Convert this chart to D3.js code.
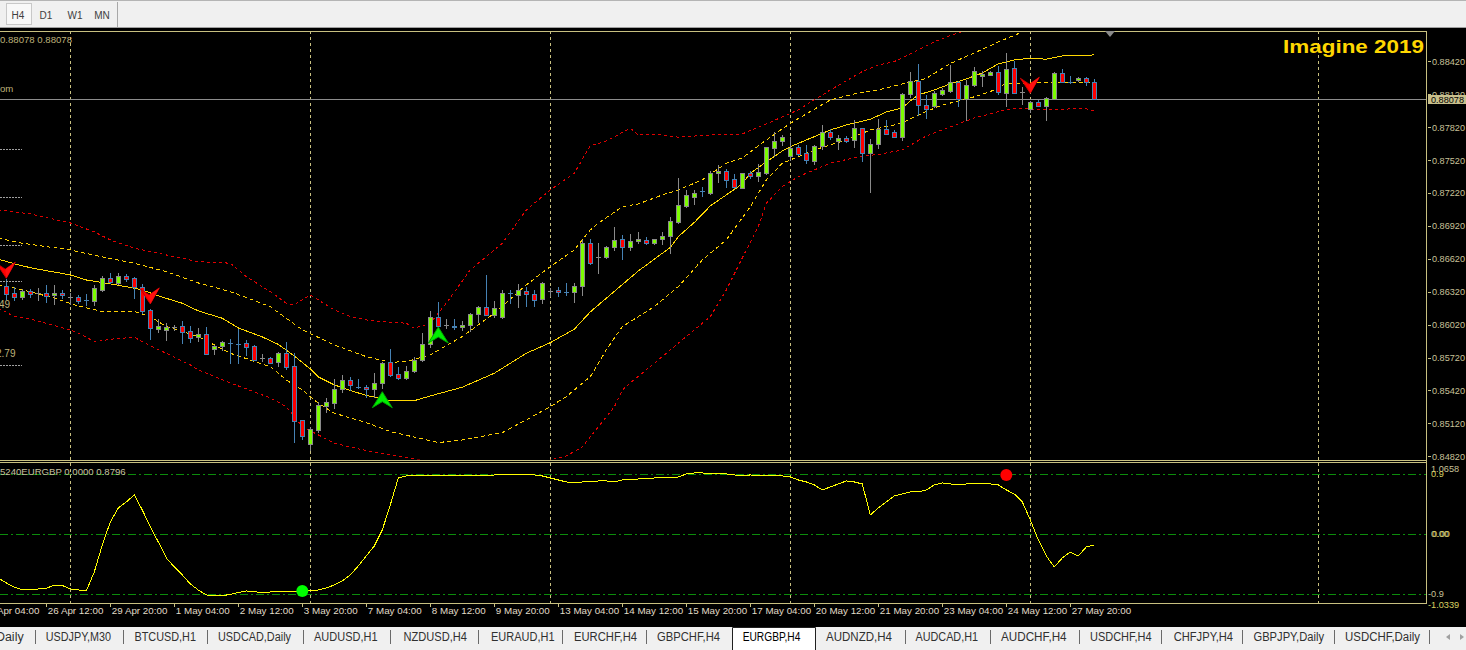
<!DOCTYPE html>
<html><head><meta charset="utf-8">
<script src="https://cdn.jsdelivr.net/npm/d3@7"></script>
<style>html,body{margin:0;padding:0;background:#000;overflow:hidden}svg{display:block}text{font-family:"Liberation Sans",Arial,sans-serif}</style>
</head><body>
<svg id="c" width="1466" height="650"></svg>
<script>
// ---------------- DATA ----------------
const open = [
0.86375,0.86309,0.86275,0.86327,0.86306,0.86309,0.86288,0.86311,0.86275,0.86272,
0.86246,0.86239,0.86336,0.86443,0.86403,0.86464,0.86443,0.86366,0.86154,0.85981,
0.85975,0.85999,0.86006,0.85963,0.85906,0.85933,0.85796,0.85823,0.85852,0.85848,
0.85854,0.85826,0.85716,0.85716,0.85680,0.85762,0.85641,0.85149,0.84930,0.85061,
0.85282,0.85310,0.85434,0.85516,0.85456,0.85455,0.85432,0.85486,0.85677,0.85568,
0.85532,0.85595,0.85698,0.85842,0.86088,0.86020,0.86003,0.85996,0.86015,0.86115,
0.86181,0.86111,0.86088,0.86310,0.86293,0.86330,0.86300,0.86254,0.86330,0.86333,
0.86316,0.86315,0.86370,0.86762,0.86635,0.86640,0.86726,0.86798,0.86726,0.86780,
0.86789,0.86762,0.86798,0.86826,0.86959,0.87099,0.87186,0.87237,0.87217,0.87400,
0.87418,0.87345,0.87269,0.87403,0.87378,0.87405,0.87633,0.87691,0.87560,0.87639,
0.87585,0.87515,0.87649,0.87776,0.87697,0.87721,0.87700,0.87810,0.87588,0.87664,
0.87803,0.87776,0.87733,0.88120,0.88238,0.88020,0.88016,0.88122,0.88152,0.88229,
0.88074,0.88202,0.88284,0.88298,0.88320,0.88134,0.88357,0.88143,0.87983,0.88050,
0.88016,0.88077,0.88314,0.88233,0.88247,0.88265,0.88229];
const high = [
0.86437,0.86361,0.86342,0.86342,0.86351,0.86382,0.86382,0.86336,0.86311,0.86291,
0.86297,0.86382,0.86464,0.86494,0.86489,0.86480,0.86455,0.86388,0.86163,0.86069,
0.86033,0.86017,0.86057,0.86006,0.85990,0.85999,0.85835,0.85872,0.85893,0.85984,
0.85881,0.85833,0.85753,0.85728,0.85774,0.85860,0.85759,0.85152,0.85091,0.85313,
0.85349,0.85525,0.85562,0.85546,0.85525,0.85466,0.85577,0.85677,0.85796,0.85635,
0.85643,0.85728,0.85942,0.86145,0.86224,0.86069,0.86069,0.86051,0.86127,0.86193,
0.86473,0.86236,0.86333,0.86333,0.86391,0.86363,0.86333,0.86412,0.86351,0.86363,
0.86400,0.86400,0.86792,0.86801,0.86762,0.86737,0.86910,0.86837,0.86844,0.86865,
0.86819,0.86804,0.86865,0.87002,0.87354,0.87245,0.87248,0.87272,0.87421,0.87475,
0.87436,0.87392,0.87406,0.87421,0.87485,0.87642,0.87776,0.87751,0.87727,0.87658,
0.87658,0.87658,0.87840,0.87801,0.87749,0.87740,0.87888,0.87815,0.87715,0.87894,
0.87885,0.87797,0.88129,0.88320,0.88396,0.88113,0.88147,0.88174,0.88387,0.88244,
0.88250,0.88368,0.88332,0.88329,0.88378,0.88496,0.88420,0.88189,0.88061,0.88070,
0.88098,0.88323,0.88350,0.88286,0.88277,0.88280,0.88256];
const low = [
0.86254,0.86245,0.86254,0.86275,0.86245,0.86230,0.86209,0.86266,0.86209,0.86220,
0.86197,0.86203,0.86327,0.86397,0.86391,0.86421,0.86260,0.86129,0.85893,0.85957,
0.85881,0.85972,0.85856,0.85866,0.85875,0.85756,0.85756,0.85790,0.85668,0.85668,
0.85747,0.85698,0.85692,0.85668,0.85643,0.85613,0.84951,0.84981,0.84878,0.85045,
0.85227,0.85264,0.85409,0.85425,0.85441,0.85364,0.85364,0.85443,0.85555,0.85528,
0.85528,0.85589,0.85692,0.85814,0.86008,0.85987,0.85984,0.85972,0.85963,0.86045,
0.86108,0.86088,0.86084,0.86220,0.86184,0.86188,0.86193,0.86220,0.86282,0.86284,
0.86288,0.86230,0.86291,0.86574,0.86494,0.86631,0.86698,0.86622,0.86698,0.86767,
0.86753,0.86756,0.86753,0.86676,0.86950,0.87095,0.87117,0.87196,0.87214,0.87324,
0.87272,0.87266,0.87266,0.87354,0.87333,0.87396,0.87557,0.87658,0.87518,0.87569,
0.87491,0.87485,0.87618,0.87709,0.87618,0.87688,0.87637,0.87515,0.87232,0.87633,
0.87755,0.87730,0.87706,0.88098,0.87934,0.87907,0.88007,0.88113,0.88143,0.88013,
0.87885,0.88193,0.88195,0.88293,0.88125,0.88013,0.88129,0.88031,0.87961,0.88013,
0.87885,0.88074,0.88229,0.88225,0.88238,0.88207,0.88078];
const close = [
0.86300,0.86275,0.86330,0.86297,0.86306,0.86284,0.86309,0.86288,0.86275,0.86239,
0.86245,0.86351,0.86443,0.86409,0.86464,0.86437,0.86366,0.86148,0.85987,0.86006,
0.85999,0.85999,0.85957,0.85902,0.85933,0.85756,0.85826,0.85860,0.85851,0.85847,
0.85814,0.85701,0.85716,0.85673,0.85762,0.85637,0.85146,0.85009,0.85070,0.85288,
0.85319,0.85434,0.85516,0.85473,0.85455,0.85430,0.85486,0.85668,0.85564,0.85532,
0.85595,0.85698,0.85842,0.86088,0.86011,0.86020,0.86002,0.86015,0.86118,0.86181,
0.86111,0.86169,0.86306,0.86309,0.86333,0.86297,0.86248,0.86400,0.86330,0.86315,
0.86315,0.86370,0.86762,0.86585,0.86635,0.86728,0.86789,0.86726,0.86780,0.86798,
0.86762,0.86798,0.86828,0.86962,0.87108,0.87199,0.87217,0.87236,0.87400,0.87421,
0.87336,0.87270,0.87400,0.87378,0.87409,0.87637,0.87691,0.87730,0.87630,0.87578,
0.87518,0.87649,0.87773,0.87730,0.87721,0.87697,0.87810,0.87588,0.87664,0.87803,
0.87761,0.87733,0.88120,0.88238,0.88020,0.87989,0.88129,0.88159,0.88229,0.88074,
0.88202,0.88329,0.88305,0.88323,0.88141,0.88347,0.88134,0.88143,0.88047,0.88016,
0.88083,0.88314,0.88234,0.88232,0.88265,0.88232,0.88078];

// envelope / band lines, read at bar indices
const midBars = [-1,2,4,8,10,13,15,17,19,22,24,27,29,32,34,36,38,39,41,43,45,48,51,53,57,61,65,68,71,73,76,79,83,84,86,88,92,93,95,97,98,100,103,105,108,110,112,113,114,116,118,120,122,124,126,128,130,132,136];
const midVals = [0.86616,0.86555,0.86525,0.86473,0.86427,0.86391,0.86366,0.86336,0.86282,0.86215,0.86145,0.86078,0.85990,0.85908,0.85840,0.85735,0.85616,0.85543,0.85471,0.85420,0.85375,0.85327,0.85327,0.85370,0.85450,0.85577,0.85759,0.85856,0.85978,0.86136,0.86323,0.86509,0.86724,0.86822,0.86951,0.87102,0.87302,0.87400,0.87503,0.87603,0.87642,0.87703,0.87794,0.87840,0.87892,0.87958,0.87995,0.88059,0.88113,0.88159,0.88214,0.88259,0.88314,0.88396,0.88432,0.88448,0.88439,0.88469,0.88478];
const upInBars = [-1,2,8,12,16,20,24,28,33,37,41,45,48,50,53,57,61,65,68,71,73,74,77,79,82,84,87,90,92,95,98,103,106,109,112,115,118,121,124,127,132,136];
const upInVals = [0.86807,0.86762,0.86701,0.86637,0.86580,0.86503,0.86400,0.86321,0.86184,0.85972,0.85835,0.85728,0.85677,0.85683,0.85744,0.85911,0.86124,0.86382,0.86549,0.86701,0.86883,0.86944,0.87095,0.87120,0.87202,0.87248,0.87339,0.87491,0.87539,0.87703,0.87855,0.88068,0.88122,0.88159,0.88214,0.88264,0.88400,0.88496,0.88596,0.88687,0.88740,0.88760];
const loInBars = [-1,1,6,9,12,16,18,20,24,28,33,35,37,39,41,45,48,54,57,62,65,68,70,73,75,77,81,84,87,90,93,95,97,101,105,108,111,112,114,117,120,123,125,128,132,136];
const loInVals = [0.86382,0.86355,0.86263,0.86190,0.86139,0.86139,0.86093,0.86002,0.85911,0.85759,0.85637,0.85516,0.85425,0.85304,0.85213,0.85127,0.85045,0.84945,0.84969,0.85036,0.85152,0.85273,0.85364,0.85546,0.85790,0.86002,0.86184,0.86366,0.86610,0.86792,0.87095,0.87339,0.87491,0.87612,0.87703,0.87794,0.87840,0.87858,0.87931,0.88022,0.88074,0.88143,0.88220,0.88223,0.88225,0.88227];
const upOutBars = [-1,3,8,11,13,16,20,24,28,30,33,35,36,38,41,43,45,47,50,51,53,55,58,62,65,68,71,73,75,78,79,82,84,88,92,95,99,103,107,109,111,114,116,119,125,136];
const upOutVals = [0.87065,0.87029,0.86947,0.86865,0.86792,0.86716,0.86655,0.86594,0.86580,0.86457,0.86321,0.86215,0.86200,0.86291,0.86154,0.86093,0.86063,0.86047,0.86033,0.85987,0.86033,0.86215,0.86519,0.86762,0.87065,0.87248,0.87400,0.87649,0.87694,0.87810,0.87749,0.87749,0.87728,0.87749,0.87758,0.87849,0.87977,0.88159,0.88326,0.88387,0.88417,0.88523,0.88599,0.88681,0.88800,0.88850];
const loOutBars = [-1,1,3,8,10,11,13,16,18,20,23,24,28,33,35,37,39,41,45,48,52,57,62,67,70,72,76,77,78,81,84,86,88,90,92,94,95,97,99,103,107,109,112,115,118,121,123,125,127,130,133,135,136];
const loOutVals = [0.86172,0.86093,0.86072,0.85972,0.85908,0.85862,0.85887,0.85905,0.85826,0.85759,0.85653,0.85607,0.85489,0.85352,0.85273,0.85090,0.85015,0.84939,0.84872,0.84832,0.84787,0.84732,0.84732,0.84769,0.84823,0.84906,0.85270,0.85425,0.85489,0.85668,0.85851,0.85972,0.86093,0.86336,0.86628,0.86913,0.87126,0.87278,0.87369,0.87491,0.87557,0.87571,0.87612,0.87740,0.87822,0.87904,0.87940,0.87983,0.87992,0.87977,0.87986,0.87988,0.87967];

// signal arrows
const arrowBars = [0,18,128,47,54];
const arrowPrices = [0.86443,0.86209,0.88129,0.85409,0.85998];
const arrowDirs = ["down","down","down","up","up"];

// oscillator (first value is bar -1)
const oscStart = -1;
const osc = [
-0.66,
-0.735,-0.795,-0.84,-0.832,-0.825,-0.814,-0.769,-0.772,-0.825,-0.84,
-0.855,-0.57,-0.165,0.18,0.39,0.48,0.585,0.36,0.105,-0.12,
-0.36,-0.495,-0.615,-0.75,-0.84,-0.915,-0.925,-0.925,-0.907,-0.877,
-0.855,-0.862,-0.885,-0.87,-0.865,-0.865,-0.865,-0.855,-0.847,-0.84,
-0.81,-0.765,-0.705,-0.615,-0.48,-0.33,-0.18,0.06,0.435,0.84,
0.87,0.87,0.87,0.87,0.87,0.87,0.877,0.87,0.877,0.87,
0.87,0.885,0.892,0.885,0.885,0.892,0.885,0.87,0.84,0.81,
0.78,0.765,0.78,0.78,0.795,0.795,0.78,0.81,0.81,0.825,
0.825,0.84,0.84,0.84,0.855,0.9,0.915,0.915,0.9,0.907,
0.9,0.885,0.877,0.885,0.87,0.87,0.87,0.87,0.855,0.81,
0.78,0.735,0.66,0.705,0.75,0.795,0.78,0.75,0.285,0.39,
0.48,0.57,0.6,0.63,0.63,0.66,0.735,0.765,0.75,0.735,
0.75,0.75,0.75,0.75,0.735,0.66,0.6,0.48,0.21,-0.09,
-0.33,-0.495,-0.36,-0.27,-0.33,-0.195,-0.165];
const oscLevels = [0.9, 0.0, -0.9];
const dotBars = [37, 125];
const dotVals = [-0.855, 0.885];
const dotKinds = ["buy","sell"];

// axes
const priceTicks = [0.84820,0.85120,0.85420,0.85720,0.86020,0.86320,0.86620,0.86920,0.87220,0.87520,0.87820,0.88120,0.88420];
const lastPrice = 0.88078;
const timeLabels = ["25 Apr 04:00","26 Apr 12:00","29 Apr 20:00","1 May 04:00","2 May 12:00","3 May 20:00","7 May 04:00","8 May 12:00","9 May 20:00","13 May 04:00","14 May 12:00","15 May 20:00","17 May 04:00","20 May 12:00","21 May 20:00","23 May 04:00","24 May 12:00","27 May 20:00"];
const timeLabelBars = [-3,5,13,21,29,37,45,53,61,69,77,85,93,101,109,117,125,133];
const gridBars = [8,38,68,98,128,164];
const periods = ["H4","D1","W1","MN"];
const tabs = ["Daily","USDJPY,M30","BTCUSD,H1","USDCAD,Daily","AUDUSD,H1","NZDUSD,H4","EURAUD,H1","EURCHF,H4","GBPCHF,H4","EURGBP,H4","AUDNZD,H4","AUDCAD,H1","AUDCHF,H4","USDCHF,H4","CHFJPY,H4","GBPJPY,Daily","USDCHF,Daily"];
const activeTab = "EURGBP,H4";

// ---------------- DRAW ----------------
const svg = d3.select("#c");
const W = 1466, H = 650;
const plotR = 1426, mainT = 31, mainB = 460, indT = 462.5, indB = 603;
const x = d3.scaleLinear().domain([0, 136]).range([6.3, 1094.3]);
const y = d3.scaleLinear().domain([0.84820, 0.88420]).range([456.3, 61.3]);
const yo = d3.scaleLinear().domain([-1.0339, 1.0658]).range([602.9, 462.9]);
const frameCol = "#c8c080", axisTxt = "#c8c098";

svg.append("rect").attr("width", W).attr("height", H).attr("fill", "#000");
const defs = svg.append("defs");
defs.append("clipPath").attr("id", "cm").append("rect").attr("x", 0).attr("y", mainT + 0.5).attr("width", plotR).attr("height", mainB - mainT - 1);
defs.append("clipPath").attr("id", "ci").append("rect").attr("x", 0).attr("y", indT + 0.5).attr("width", plotR).attr("height", indB - indT - 1);

// toolbar
svg.append("rect").attr("x", 0).attr("y", 0).attr("width", W).attr("height", 27).attr("fill", "#f0f0f0");
svg.append("line").attr("x1", 0).attr("x2", W).attr("y1", 0.5).attr("y2", 0.5).attr("stroke", "#b4b4b4");
svg.append("line").attr("x1", 0).attr("x2", W).attr("y1", 27.5).attr("y2", 27.5).attr("stroke", "#a0a0a0");
svg.append("rect").attr("x", 6.5).attr("y", 3.5).attr("width", 25).attr("height", 21).attr("fill", "#f8f8f8").attr("stroke", "#c8c8c8");
const perX = [18, 46, 75, 102];
svg.selectAll("text.per").data(periods).join("text").attr("class", "per")
  .attr("x", (d, i) => perX[i]).attr("y", 18.5).attr("text-anchor", "middle")
  .attr("font-size", 10).attr("fill", "#404040").text(d => d);
svg.append("line").attr("x1", 117.5).attr("x2", 117.5).attr("y1", 2).attr("y2", 27).attr("stroke", "#a8a8a8");

// vertical grid
const grid = svg.append("g").attr("shape-rendering", "crispEdges");
grid.selectAll("line").data(gridBars).join("line")
  .attr("x1", d => Math.round(x(d)) + 0.5).attr("x2", d => Math.round(x(d)) + 0.5)
  .attr("y1", mainT).attr("y2", indB)
  .attr("stroke", frameCol).attr("stroke-dasharray", "3,3");

// main pane
const main = svg.append("g").attr("clip-path", "url(#cm)");
main.append("line").attr("x1", 0).attr("x2", plotR).attr("y1", Math.round(y(lastPrice)) + 0.5).attr("y2", Math.round(y(lastPrice)) + 0.5)
  .attr("stroke", "#8c8c8c").attr("shape-rendering", "crispEdges");

const bandLine = d3.line().x(d => x(d[0])).y(d => y(d[1]));
const bands = [
  [d3.zip(upOutBars, upOutVals), "#e00000", "3,3"],
  [d3.zip(loOutBars, loOutVals), "#e00000", "3,3"],
  [d3.zip(upInBars, upInVals), "#ffd000", "4,3"],
  [d3.zip(loInBars, loInVals), "#ffd000", "4,3"],
  [d3.zip(midBars, midVals), "#ffd700", null]
];
bands.forEach(b => {
  const p = main.append("path").attr("d", bandLine(b[0])).attr("fill", "none")
    .attr("stroke", b[1]).attr("stroke-width", 1).attr("shape-rendering", "crispEdges");
  if (b[2]) p.attr("stroke-dasharray", b[2]);
});

// candles
const cg = main.append("g").attr("shape-rendering", "crispEdges");
d3.range(open.length).forEach(i => {
  const bull = close[i] >= open[i];
  const edge = bull ? "#8a8a8a" : "#4682b4";
  const xc = Math.round(x(i));
  cg.append("line").attr("x1", xc + 0.5).attr("x2", xc + 0.5)
    .attr("y1", Math.round(y(high[i]))).attr("y2", Math.round(y(low[i])) + 1).attr("stroke", edge);
  const yt = Math.round(y(Math.max(open[i], close[i])));
  const yb = Math.round(y(Math.min(open[i], close[i])));
  if (yb - yt < 1) {
    cg.append("line").attr("x1", xc - 2).attr("x2", xc + 3).attr("y1", yt + 0.5).attr("y2", yt + 0.5).attr("stroke", edge);
  } else {
    cg.append("rect").attr("x", xc - 1.5).attr("y", yt + 0.5).attr("width", 4).attr("height", yb - yt)
      .attr("fill", bull ? "#7cfc00" : "#ff0000").attr("stroke", edge);
  }
});

// arrows
arrowBars.forEach((b, i) => {
  const tx = x(b), ty = y(arrowPrices[i]);
  if (arrowDirs[i] === "down") {
    main.append("path").attr("d", `M${tx},${ty} L${tx - 10},${ty - 15} L${tx - 1},${ty - 9} L${tx + 9},${ty - 16} Z`)
      .attr("fill", "#ff0000").attr("stroke", "#c00000").attr("stroke-width", 1);
    main.append("path").attr("d", `M${tx},${ty} L${tx - 1},${ty - 9} L${tx + 9},${ty - 16} Z`).attr("fill", "#ff1010");
  } else {
    main.append("path").attr("d", `M${tx},${ty} L${tx - 10},${ty + 16} L${tx},${ty + 10} L${tx + 10},${ty + 16} Z`)
      .attr("fill", "#00ee00").attr("stroke", "#00a000").attr("stroke-width", 1);
  }
});

// oscillator pane
const ind = svg.append("g").attr("clip-path", "url(#ci)");
ind.selectAll("line.lvl").data(oscLevels).join("line").attr("class", "lvl")
  .attr("x1", 0).attr("x2", plotR).attr("y1", d => Math.round(yo(d)) + 0.5).attr("y2", d => Math.round(yo(d)) + 0.5)
  .attr("stroke", "#0c8c0c").attr("stroke-dasharray", "8,3,2,3").attr("shape-rendering", "crispEdges");
const oscLine = d3.line().x((d, i) => x(i + oscStart)).y(d => yo(d));
ind.append("path").attr("d", oscLine(osc)).attr("fill", "none").attr("stroke", "#ffff00").attr("stroke-width", 1).attr("shape-rendering", "crispEdges");
ind.selectAll("circle").data(dotBars).join("circle")
  .attr("cx", d => x(d)).attr("cy", (d, i) => yo(dotVals[i])).attr("r", 6)
  .attr("fill", (d, i) => dotKinds[i] === "buy" ? "#00ff00" : "#ff0000");

// frame
const fr = svg.append("g").attr("stroke", frameCol).attr("shape-rendering", "crispEdges");
fr.append("line").attr("x1", 0).attr("x2", plotR + 1).attr("y1", mainT + 0.5).attr("y2", mainT + 0.5);
fr.append("line").attr("x1", 0).attr("x2", plotR + 1).attr("y1", mainB + 0.5).attr("y2", mainB + 0.5);
fr.append("line").attr("x1", 0).attr("x2", plotR + 1).attr("y1", indT).attr("y2", indT);
fr.append("line").attr("x1", 0).attr("x2", plotR + 1).attr("y1", indB + 0.5).attr("y2", indB + 0.5);
fr.append("line").attr("x1", plotR + 0.5).attr("x2", plotR + 0.5).attr("y1", mainT).attr("y2", indB + 1);

// price axis
const pax = svg.append("g").attr("transform", `translate(${plotR + 2},0)`)
  .call(d3.axisRight(y).tickValues(priceTicks).tickSize(3).tickPadding(1).tickFormat(d => d.toFixed(5)));
pax.select(".domain").remove();
pax.selectAll(".tick line").attr("stroke", frameCol).attr("shape-rendering", "crispEdges");
pax.selectAll(".tick text").attr("fill", axisTxt).attr("font-size", 9.2)
  .attr("textLength", 33).attr("lengthAdjust", "spacingAndGlyphs")
  .attr("font-family", "Liberation Sans, Arial, sans-serif");
// last price marker
const lpY = Math.round(y(lastPrice));
svg.append("rect").attr("x", 1428).attr("y", lpY - 4).attr("width", 38).attr("height", 9).attr("fill", "#c8c08c");
svg.append("text").attr("x", 1431).attr("y", lpY + 3.8).attr("font-size", 9.2)
  .attr("textLength", 33).attr("lengthAdjust", "spacingAndGlyphs").attr("fill", "#000").text(lastPrice.toFixed(5));

// oscillator axis labels
const oscAxisVals = [1.0658, 0.9, 0.0, 0.0, -0.9, -1.0339];
const oscAxisTxt = ["1.0658", "0.9", "0.00", "0.00", "-0.9", "-1.0339"];
const oscAxisDy = [6, 0, 0, 0, -0.5, 1.5];
const oscAxisX = [1431, 1431, 1431, 1432, 1428, 1428];
oscAxisVals.forEach((v, i) => {
  svg.append("text").attr("x", oscAxisX[i]).attr("y", yo(v) + 3.5 + oscAxisDy[i])
    .attr("font-size", 9.2).attr("fill", i % 2 ? "#d8d060" : axisTxt).text(oscAxisTxt[i]);
});

// time axis
const tax = svg.append("g").attr("transform", `translate(0,${indB + 1})`)
  .call(d3.axisBottom(x).tickValues(timeLabelBars).tickSize(3).tickFormat((d, i) => timeLabels[i]));
tax.select(".domain").remove();
tax.selectAll(".tick line").attr("stroke", frameCol).attr("shape-rendering", "crispEdges");
tax.selectAll(".tick text").attr("text-anchor", "start").attr("x", 1).attr("y", 3).attr("dy", "0.71em")
  .attr("fill", "#e0dcc8").attr("font-size", 9.8).attr("font-family", "Liberation Sans, Arial, sans-serif");

// texts in chart
svg.append("text").attr("x", 1283).attr("y", 53).attr("font-size", 19).attr("font-weight", "bold")
  .attr("textLength", 141).attr("lengthAdjust", "spacingAndGlyphs").attr("fill", "#ffd700").text("Imagine 2019");
svg.append("text").attr("x", 0).attr("y", 43).attr("font-size", 9.6).attr("fill", "#bfb27a").text("0.88078 0.88078");
svg.append("text").attr("x", 0).attr("y", 92).attr("font-size", 9.6).attr("fill", "#bfb27a").text("om");
svg.append("text").attr("x", -1).attr("y", 308).attr("font-size", 10).attr("fill", "#bfb27a").text("49");
svg.append("text").attr("x", -4).attr("y", 357).attr("font-size", 10).attr("fill", "#bfb27a").text("2.79");
svg.append("text").attr("x", 0).attr("y", 474.5).attr("font-size", 9.6).attr("fill", "#c8c0a0").text("5240EURGBP 0.0000 0.8796");
[149, 197, 245, 281, 365].forEach(v => svg.append("line").attr("x1", 0).attr("x2", 22).attr("y1", v + 0.5).attr("y2", v + 0.5)
  .attr("stroke", "#a0a0a0").attr("stroke-dasharray", "2,1").attr("shape-rendering", "crispEdges"));
svg.append("path").attr("d", "M1105,31 L1115,31 L1110,37 Z").attr("fill", "#8a8a8a");

// tab bar
svg.append("rect").attr("x", 0).attr("y", 627).attr("width", W).attr("height", 23).attr("fill", "#f0f0f0");
const tabSpan = [[-4,23.6],[45.8,111],[134.5,196],[218,291],[314,377.5],[403.5,467],[491,554.5],[574,637],[657,720],[742.7,800.4],[826,892],[915.5,978],[1001,1066.6],[1090,1151.6],[1173.7,1233],[1253.5,1324],[1345,1420]];
const sepX = [35.5,123.5,207.5,303.5,390.5,478.5,562.5,646.5,905.5,990.5,1079.5,1161.5,1242.5,1334.5,1429.5];
sepX.forEach(s => svg.append("line").attr("x1", s).attr("x2", s).attr("y1", 630).attr("y2", 644).attr("stroke", "#6a6a6a"));
svg.append("path").attr("d", "M732.5,650 L732.5,627.5 L815.5,627.5 L815.5,650").attr("fill", "#fff").attr("stroke", "#202020");
tabs.forEach((t, i) => {
  svg.append("text").attr("x", tabSpan[i][0]).attr("y", 641).attr("font-size", 12)
    .attr("textLength", tabSpan[i][1] - tabSpan[i][0]).attr("lengthAdjust", "spacingAndGlyphs")
    .attr("fill", t === activeTab ? "#000" : "#303030").text(t);
});
svg.append("path").attr("d", "M1450,634 L1446,637 L1450,640 Z").attr("fill", "#a0a0a0");
svg.append("path").attr("d", "M1460,634 L1464,637 L1460,640 Z").attr("fill", "#a0a0a0");
</script>
</body></html>
